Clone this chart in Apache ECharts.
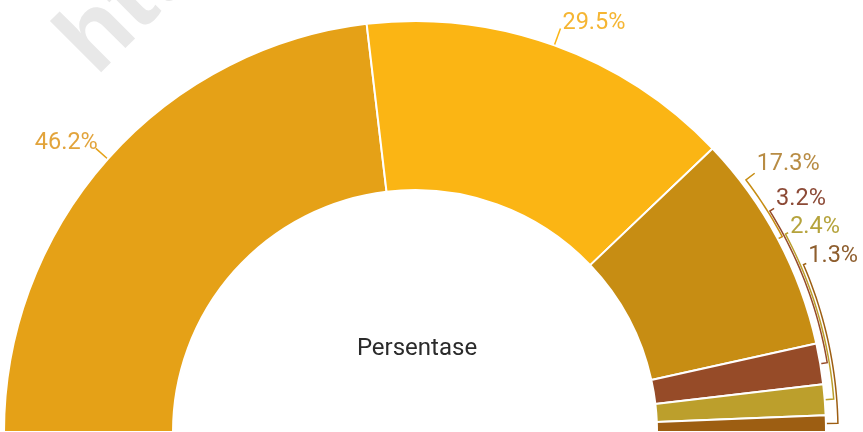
<!DOCTYPE html>
<html>
<head>
<meta charset="utf-8">
<script src="https://cdn.jsdelivr.net/npm/echarts@6/dist/echarts.min.js"></script>
<style>
  html, body { margin: 0; padding: 0; background: #ffffff; }
  #chart { width: 863px; height: 432px; }
</style>
</head>
<body>
<div id="chart"></div>
<script>
// Share of each group, in percent
const percentValues = [46.2, 29.5, 17.3, 3.2, 2.4, 1.3];
const sliceColors = ['#E5A117', '#FBB514', '#C78D13', '#964B28', '#BC9F2C', '#9D5E12'];
const labelColors = ['#E2A43C', '#F5B532', '#B88C44', '#8C4A36', '#B5A33C', '#8E5E2E'];
const centerText = 'Persentase';
const watermarkText = 'https://';

const CENTER = [415, 432];
const RADIUS = [242, 411];

// Large slices get a short radial leader; small ones get a bracket that
// runs along the outer rim up to a stacked label.
const labelPlacement = [
  { kind: 'radial', len: 16, align: 'right', dx: 2, dy: -5 },
  { kind: 'radial', len: 18, align: 'left', dx: 2, dy: -5 },
  { kind: 'arc', arc: 5, tip: 16, deg: 37.3, dy: -9 },
  { kind: 'arc', arc: 7, tip: 12, deg: 31.9, dy: -9 },
  { kind: 'arc', arc: 9, tip: 12, deg: 28.1, dy: -6 },
  { kind: 'arc', arc: 12, tip: 15, deg: 23.3, dy: -7 }
];

function polar(r, deg) {
  const a = deg * Math.PI / 180;
  return [CENTER[0] + r * Math.cos(a), CENTER[1] - r * Math.sin(a)];
}

function layoutLabel(params) {
  const pts = params.labelLinePoints;
  if (!pts) return {};
  const p0 = pts[0];
  const dx = p0[0] - CENTER[0];
  const dy = CENTER[1] - p0[1];
  const r0 = Math.hypot(dx, dy);
  const deg0 = Math.atan2(dy, dx) * 180 / Math.PI;
  const cfg = labelPlacement[params.dataIndex];
  if (cfg.kind === 'radial') {
    const p1 = polar(r0 + cfg.len, deg0);
    return {
      x: p1[0] + cfg.dx, y: p1[1] + cfg.dy,
      align: cfg.align, verticalAlign: 'middle',
      labelLinePoints: [p0, p1, p1]
    };
  }
  const ra = r0 + cfg.arc;
  const line = [p0];
  const steps = Math.max(2, Math.ceil(Math.abs(cfg.deg - deg0)));
  for (let s = 0; s <= steps; s++) {
    line.push(polar(ra, deg0 + (cfg.deg - deg0) * s / steps));
  }
  const tip = polar(r0 + cfg.tip, cfg.deg);
  line.push(tip);
  return {
    x: tip[0] + 2, y: tip[1] + cfg.dy,
    align: 'left', verticalAlign: 'middle',
    labelLinePoints: line
  };
}

const chart = echarts.init(document.getElementById('chart'), null, { renderer: 'canvas' });

chart.setOption({
  animation: false,
  backgroundColor: '#ffffff',
  graphic: [
    {
      type: 'text',
      x: 112, y: 93,
      rotation: Math.PI / 4,
      z: -10,
      silent: true,
      style: {
        text: watermarkText,
        fill: '#e8e8e8',
        font: 'bold 100px "Liberation Sans", Arial, sans-serif',
        textAlign: 'left',
        textVerticalAlign: 'bottom'
      }
    },
    {
      type: 'text',
      x: 417, y: 349,
      silent: true,
      style: {
        text: centerText,
        fill: '#2b2b2b',
        font: '24px Roboto, sans-serif',
        textAlign: 'center',
        textVerticalAlign: 'middle'
      }
    }
  ],
  series: [{
    type: 'pie',
    center: CENTER,
    radius: RADIUS,
    startAngle: 180,
    endAngle: 360,
    clockwise: true,
    avoidLabelOverlap: false,
    silent: true,
    itemStyle: { borderColor: '#ffffff', borderWidth: 2 },
    label: {
      show: true,
      formatter: (p) => p.value + '%',
      fontFamily: 'Roboto',
      fontSize: 23.5
    },
    labelLine: { show: true, length: 10, length2: 5, lineStyle: { width: 1.5 } },
    labelLayout: layoutLabel,
    data: percentValues.map((v, i) => ({
      value: v,
      itemStyle: { color: sliceColors[i] },
      label: { color: labelColors[i] }
    }))
  }]
});
</script>
</body>
</html>
